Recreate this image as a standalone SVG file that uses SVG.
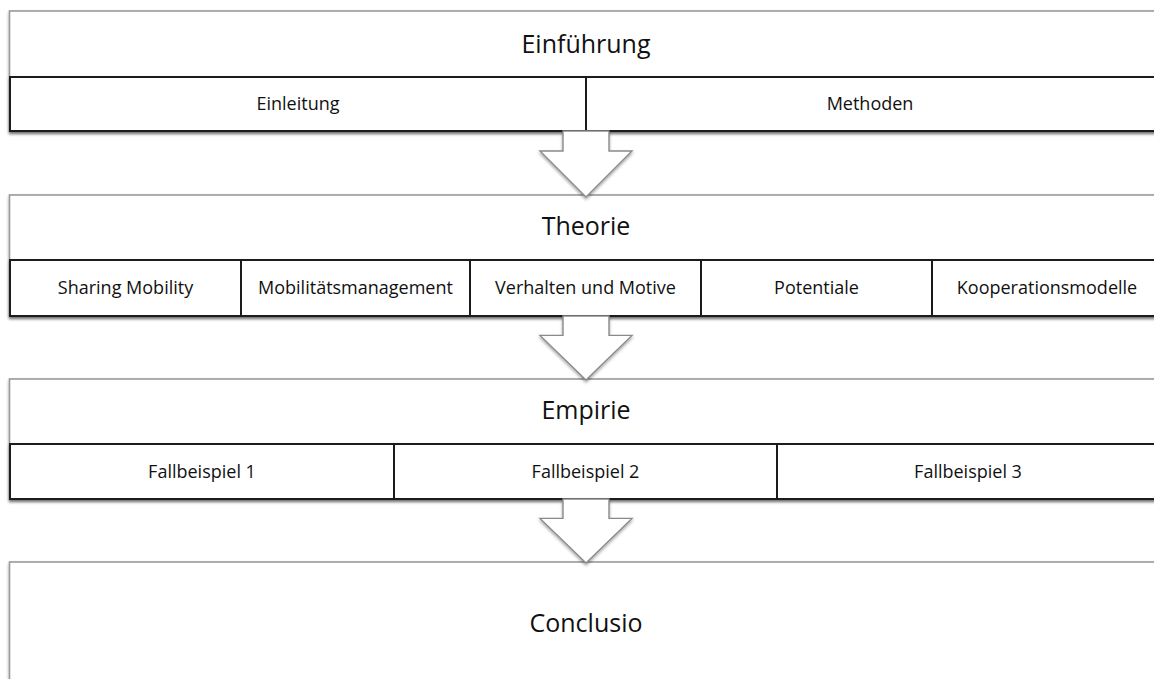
<svg xmlns="http://www.w3.org/2000/svg" width="1154" height="679" viewBox="0 0 1154 679">
  <defs>
    <filter id="shadow" x="-10%" y="-20%" width="120%" height="150%">
      <feDropShadow dx="0" dy="2" stdDeviation="1.6" flood-color="#000" flood-opacity="0.35"/>
    </filter>
    <path id="arrowShape" d="M -23 0 L 23 0 L 23 20 L 46 20 L 0 66 L -46 20 L -23 20 Z"/>
  </defs>
  <style>
    .panel { fill: #fff; stroke: #9a9a9a; stroke-width: 1.6; filter: url(#shadow); }
    .row { fill: #fff; stroke: #1a1a1a; stroke-width: 2; filter: url(#shadow); }
    .div { stroke: #1a1a1a; stroke-width: 2; }
    .head { font-family: "Open Sans", "Noto Sans", sans-serif; font-size: 25px; fill: #111; text-anchor: middle; }
    .cell { font-family: "Open Sans", "Noto Sans", sans-serif; font-size: 18px; fill: #111; text-anchor: middle; }
    .arrow { fill: #fff; stroke: #8a8a8a; stroke-width: 1.4; filter: url(#shadow); }
  </style>
  <rect width="1154" height="679" fill="#fff"/>

  <!-- Einführung -->
  <g id="einfuehrung">
    <rect class="panel" x="9.5" y="11" width="1160" height="120"/>
    <text class="head" x="586" y="53">Einführung</text>
    <rect class="row" x="10" y="77" width="1160" height="54"/>
    <line class="div" x1="586" y1="77" x2="586" y2="131"/>
    <text class="cell" x="298" y="110">Einleitung</text>
    <text class="cell" x="870" y="110">Methoden</text>
  </g>

  <!-- Theorie -->
  <g id="theorie">
    <rect class="panel" x="9.5" y="195" width="1160" height="121"/>
    <text class="head" x="586" y="235">Theorie</text>
    <rect class="row" x="10" y="260" width="1160" height="56"/>
    <line class="div" x1="241" y1="260" x2="241" y2="316"/>
    <line class="div" x1="470" y1="260" x2="470" y2="316"/>
    <line class="div" x1="701" y1="260" x2="701" y2="316"/>
    <line class="div" x1="932" y1="260" x2="932" y2="316"/>
    <text class="cell" x="125.5" y="294">Sharing Mobility</text>
    <text class="cell" x="355.5" y="294">Mobilitätsmanagement</text>
    <text class="cell" x="585.5" y="294">Verhalten und Motive</text>
    <text class="cell" x="816.5" y="294">Potentiale</text>
    <text class="cell" x="1047" y="294">Kooperationsmodelle</text>
  </g>

  <!-- Empirie -->
  <g id="empirie">
    <rect class="panel" x="9.5" y="379" width="1160" height="120"/>
    <text class="head" x="586" y="419">Empirie</text>
    <rect class="row" x="10" y="444" width="1160" height="55"/>
    <line class="div" x1="394" y1="444" x2="394" y2="499"/>
    <line class="div" x1="777" y1="444" x2="777" y2="499"/>
    <text class="cell" x="202" y="478">Fallbeispiel 1</text>
    <text class="cell" x="585.5" y="478">Fallbeispiel 2</text>
    <text class="cell" x="968" y="478">Fallbeispiel 3</text>
  </g>

  <!-- Conclusio -->
  <g id="conclusio">
    <rect class="panel" x="9.5" y="562" width="1160" height="140"/>
    <text class="head" x="586" y="632">Conclusio</text>
  </g>

  <!-- block arrows between the stages -->
  <g id="connectors">
    <use href="#arrowShape" class="arrow" transform="translate(586,131)"/>
    <use href="#arrowShape" class="arrow" transform="translate(586,316) scale(1,0.97)"/>
    <use href="#arrowShape" class="arrow" transform="translate(586,499) scale(1,0.97)"/>
  </g>
</svg>
